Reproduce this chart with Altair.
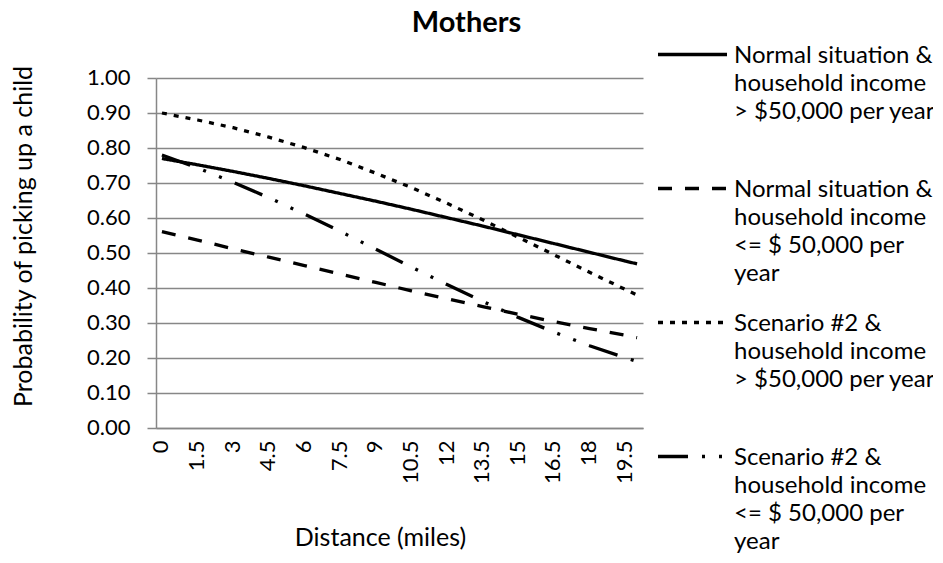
import altair as alt
import pandas as pd

# Distance (miles) at which values were read
distance = [0, 1.5, 3, 4.5, 6, 7.5, 9, 10.5, 12, 13.5, 15, 16.5, 18, 19.5, 20]

normal_high = [0.770, 0.752, 0.733, 0.713, 0.692, 0.670, 0.648, 0.625, 0.601,
               0.577, 0.552, 0.527, 0.502, 0.477, 0.469]
normal_low = [0.561, 0.537, 0.512, 0.488, 0.464, 0.440, 0.416, 0.392, 0.369,
              0.347, 0.325, 0.304, 0.284, 0.265, 0.258]
scen2_high = [0.900, 0.880, 0.858, 0.831, 0.801, 0.767, 0.728, 0.687, 0.642,
              0.595, 0.545, 0.495, 0.445, 0.396, 0.380]
scen2_low = [0.780, 0.743, 0.702, 0.658, 0.611, 0.562, 0.511, 0.460, 0.410,
             0.362, 0.316, 0.274, 0.235, 0.201, 0.190]

series_names = [
    "Normal situation &|household income|> $50,000 per year",
    "Normal situation &|household income|<= $ 50,000 per|year",
    "Scenario #2 &|household income|> $50,000 per year",
    "Scenario #2 &|household income|<= $ 50,000 per|year",
]
series_values = [normal_high, normal_low, scen2_high, scen2_low]

x_ticks = [0, 1.5, 3, 4.5, 6, 7.5, 9, 10.5, 12, 13.5, 15, 16.5, 18, 19.5]
y_ticks = [0.0, 0.1, 0.2, 0.3, 0.4, 0.5, 0.6, 0.7, 0.8, 0.9, 1.0]

rows = []
for name, vals in zip(series_names, series_values):
    for d, v in zip(distance, vals):
        rows.append({"distance": d, "prob": v, "series": name})
df = pd.DataFrame(rows)

FONT = "Lato"
GRAY = "#878787"

dashes = [[1, 0], [14, 13], [5, 7], [30, 14, 3, 14, 3, 14]]
widths = [3.3, 3.3, 5, 2.8]

legend = alt.Legend(
    title=None,
    orient="none",
    legendX=500,
    legendY=-60,
    symbolType="stroke",
    symbolSize=4761,
    labelExpr="split(datum.label, '|')",
    labelFont=FONT,
    labelFontSize=24,
    labelColor="black",
    labelBaseline="top",
    labelOffset=5,
    labelLimit=400,
    rowPadding=0,
    gridAlign="all",
    padding=0,
)

chart = alt.Chart(df).mark_line().encode(
    x=alt.X(
        "distance:Q",
        scale=alt.Scale(domain=[-0.25, 20.25], nice=False, zero=False),
        axis=alt.Axis(
            values=x_ticks,
            format=".3~g",
            labelAngle=270,
            labelBaseline="top",
            ticks=False,
            grid=False,
            labelPadding=12,
            title="Distance (miles)",
            titlePadding=42,
            titleX=224,
        ),
    ),
    y=alt.Y(
        "prob:Q",
        scale=alt.Scale(domain=[0, 1], nice=False),
        axis=alt.Axis(
            values=y_ticks,
            format=".2f",
            grid=True,
            tickSize=9,
            labelPadding=17,
            labelBaseline="top",
            title="Probability of picking up a child",
            titlePadding=50,
            titleY=158,
        ),
    ),
    color=alt.Color("series:N", scale=alt.Scale(domain=series_names, range=["black"] * 4), legend=legend),
    strokeDash=alt.StrokeDash("series:N", scale=alt.Scale(domain=series_names, range=dashes), legend=legend),
    strokeWidth=alt.StrokeWidth("series:N", scale=alt.Scale(domain=series_names, range=widths), legend=legend),
).properties(
    width=487,
    height=350,
    title=alt.TitleParams("Mothers", font=FONT, fontSize=29, fontWeight="bold", color="black",
                          anchor="middle", dx=67, offset=-20),
    autosize=alt.AutoSizeParams(type="none"),
    padding={"left": 148, "top": 70, "right": 290, "bottom": 127},
).configure(
    style={"guide-label": {"lineHeight": 28, "dy": -11}}
).configure_view(stroke=None).configure_axis(
    labelFont=FONT,
    labelFontSize=22,
    labelColor="black",
    titleFont=FONT,
    titleFontSize=25,
    titleFontWeight="normal",
    titleColor="black",
    domainColor=GRAY,
    domainWidth=1.5,
    tickColor=GRAY,
    tickWidth=1.5,
    gridColor=GRAY,
    gridWidth=1.5,
)

chart.save("out.html", embed_options={"renderer": "svg", "actions": False})
